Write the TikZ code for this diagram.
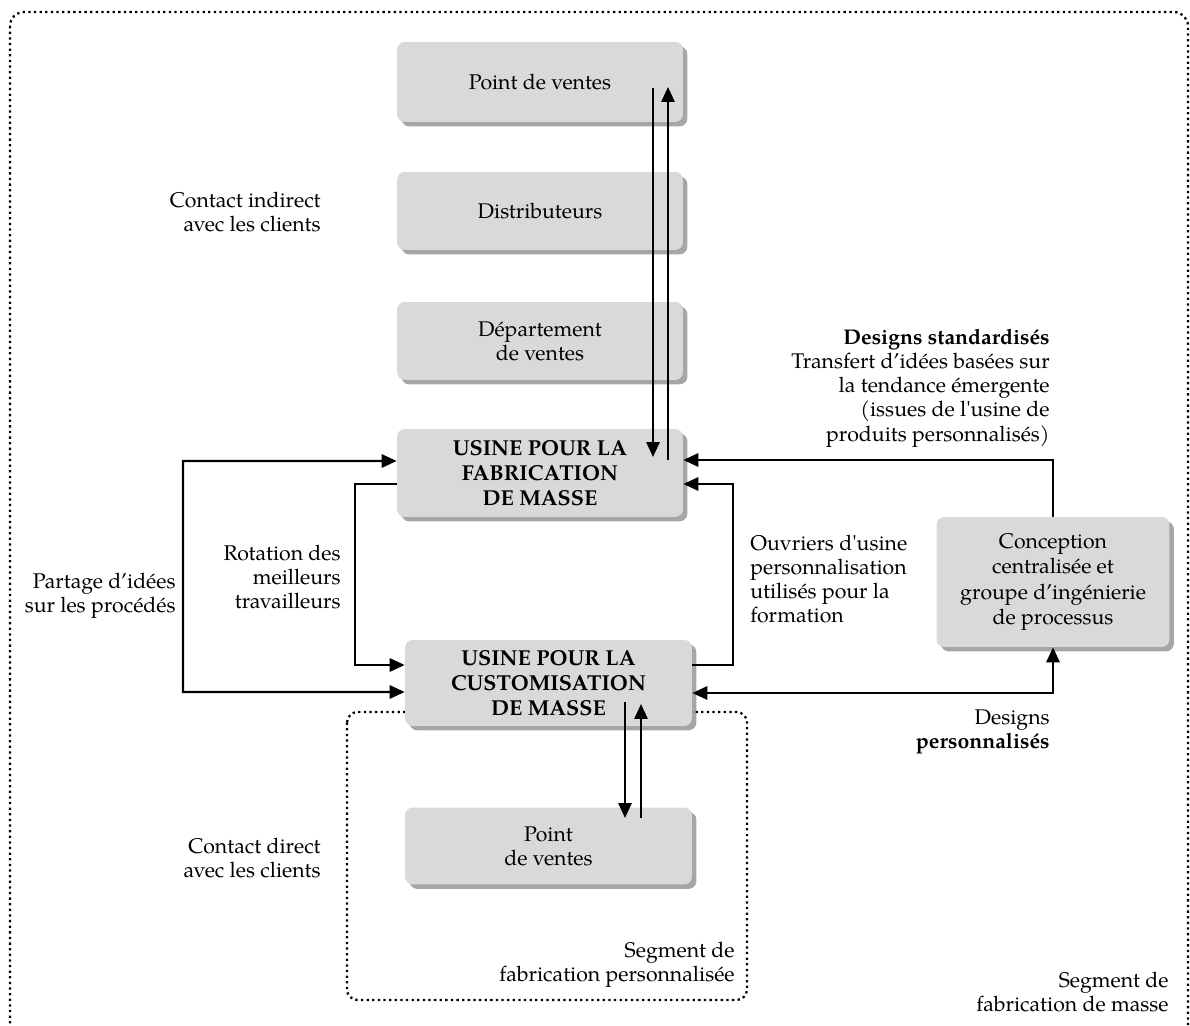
\documentclass[tikz,border=0pt]{standalone}
\usepackage{fontspec}
\setmainfont{texgyrepagella}[Extension=.otf,UprightFont=*-regular,BoldFont=*-bold,ItalicFont=*-italic,BoldItalicFont=*-bolditalic]
\usetikzlibrary{arrows.meta,shadows}
\definecolor{boxgray}{HTML}{D9D9D9}
\begin{document}
\begin{tikzpicture}[x=0.02cm,y=-0.02cm,
  every node/.style={font=\fontsize{12.1}{13.8}\selectfont},
  box/.style={fill=boxgray, rounded corners=4.5pt,
    drop shadow={shadow xshift=2.5pt,shadow yshift=-2.5pt,opacity=0.35,fill=black},
    align=center, inner sep=0pt},
  lbl/.style={inner sep=0pt},
  tip/.tip={Triangle[length=8.5pt,width=7.5pt]},
  conn/.style={line width=1.3pt,-tip},
  conn2/.style={line width=1.3pt,tip-tip},
  dotline/.style={line width=1.3pt,dash pattern=on 1.3pt off 1.9pt}]
\useasboundingbox (0,0) rectangle (1190,1026);
\fill[white] (0,0) rectangle (1190,1026);

% outer segment border
\draw[dotline,rounded corners=8pt] (10,12) rectangle (1188,1070);
% inner segment border
\draw[dotline,rounded corners=6pt] (347,712) rectangle (747,1000);

% boxes
\node[box,minimum width=5.72cm,minimum height=1.6cm] (pv1) at (540,82) {Point de ventes};
\node[box,minimum width=5.72cm,minimum height=1.56cm] (dist) at (540,211) {Distributeurs};
\node[box,minimum width=5.72cm,minimum height=1.56cm] (dept) at (540,341) {Département\\de ventes};
\node[box,minimum width=5.72cm,minimum height=1.76cm,font=\fontsize{12.3}{14.3}\selectfont\bfseries] (fab) at (540,473) {USINE POUR LA\\FABRICATION\\DE MASSE};
\node[box,minimum width=5.74cm,minimum height=1.72cm,font=\fontsize{12.3}{14.3}\selectfont\bfseries] (cust) at (548.5,683) {USINE POUR LA\\CUSTOMISATION\\DE MASSE};
\node[box,minimum width=5.74cm,minimum height=1.54cm] (pv2) at (548.5,846) {Point\\de ventes};
\node[box,minimum width=4.66cm,minimum height=2.6cm,font=\fontsize{12.1}{14.3}\selectfont] (conc) at (1053,582) {Conception\\centralisée et\\groupe d\textquoteright ingénierie\\de processus};

% labels
\node[lbl,anchor=east,align=right] (l1) at (321,212) {Contact indirect\\avec les clients};
\node[lbl,anchor=east,align=right] (l2) at (1050,388) {\textbf{Designs standardisés}\\Transfert d\textquoteright idées basées sur\\la tendance émergente\\(issues de l\textquotesingle usine de\\produits personnalisés)};
\node[lbl,anchor=east,align=right] (l3) at (176,596) {Partage d\textquoteright idées\\sur les procédés};
\node[lbl,anchor=east,align=right] (l4) at (341,577) {Rotation des\\meilleurs\\travailleurs};
\node[lbl,anchor=west,align=left] (l5) at (750,579) {Ouvriers d\textquotesingle usine\\personnalisation\\utilisés pour la\\formation};
\node[lbl,anchor=east,align=right] (l6) at (1050,732) {Designs\\\textbf{personnalisés}};
\node[lbl,anchor=east,align=right] (l7) at (321,858) {Contact direct\\avec les clients};
\node[lbl,anchor=east,align=right] (l8) at (735,965) {Segment de\\fabrication personnalisée};
\node[lbl,anchor=east,align=right] (l9) at (1169,992) {Segment de\\fabrication de masse};

% vertical arrows top
\coordinate (a1) at (653,88);
\coordinate (a2) at (653,457);
\coordinate (b1) at (668,460);
\coordinate (b2) at (668,87);
\draw[conn] (a1) -- (a2);
\draw[conn] (b1) -- (b2);
% vertical arrows bottom
\coordinate (c1) at (625,702);
\coordinate (c2) at (625,818);
\coordinate (d1) at (641,818);
\coordinate (d2) at (641,704);
\draw[conn] (c1) -- (c2);
\draw[conn] (d1) -- (d2);

% standardised designs
\draw[conn] (conc.north) |- ([yshift=0.26cm]fab.east);
% workers for training
\draw[conn] ([yshift=0.36cm]cust.east) -- ++(41,0) |- ([yshift=-0.22cm]fab.east);
% rotation of best workers
\draw[conn] ([yshift=-0.22cm]fab.west) -- ++(-42,0) |- ([yshift=0.36cm]cust.west);
% sharing ideas
\draw[conn2] ([yshift=0.24cm]fab.west) -- (183,461) -- (183,692) -- ([yshift=-0.18cm]cust.west);
% customised designs
\draw[conn2] ([yshift=-0.2cm]cust.east) -| (conc.south);
\end{tikzpicture}
\end{document}
